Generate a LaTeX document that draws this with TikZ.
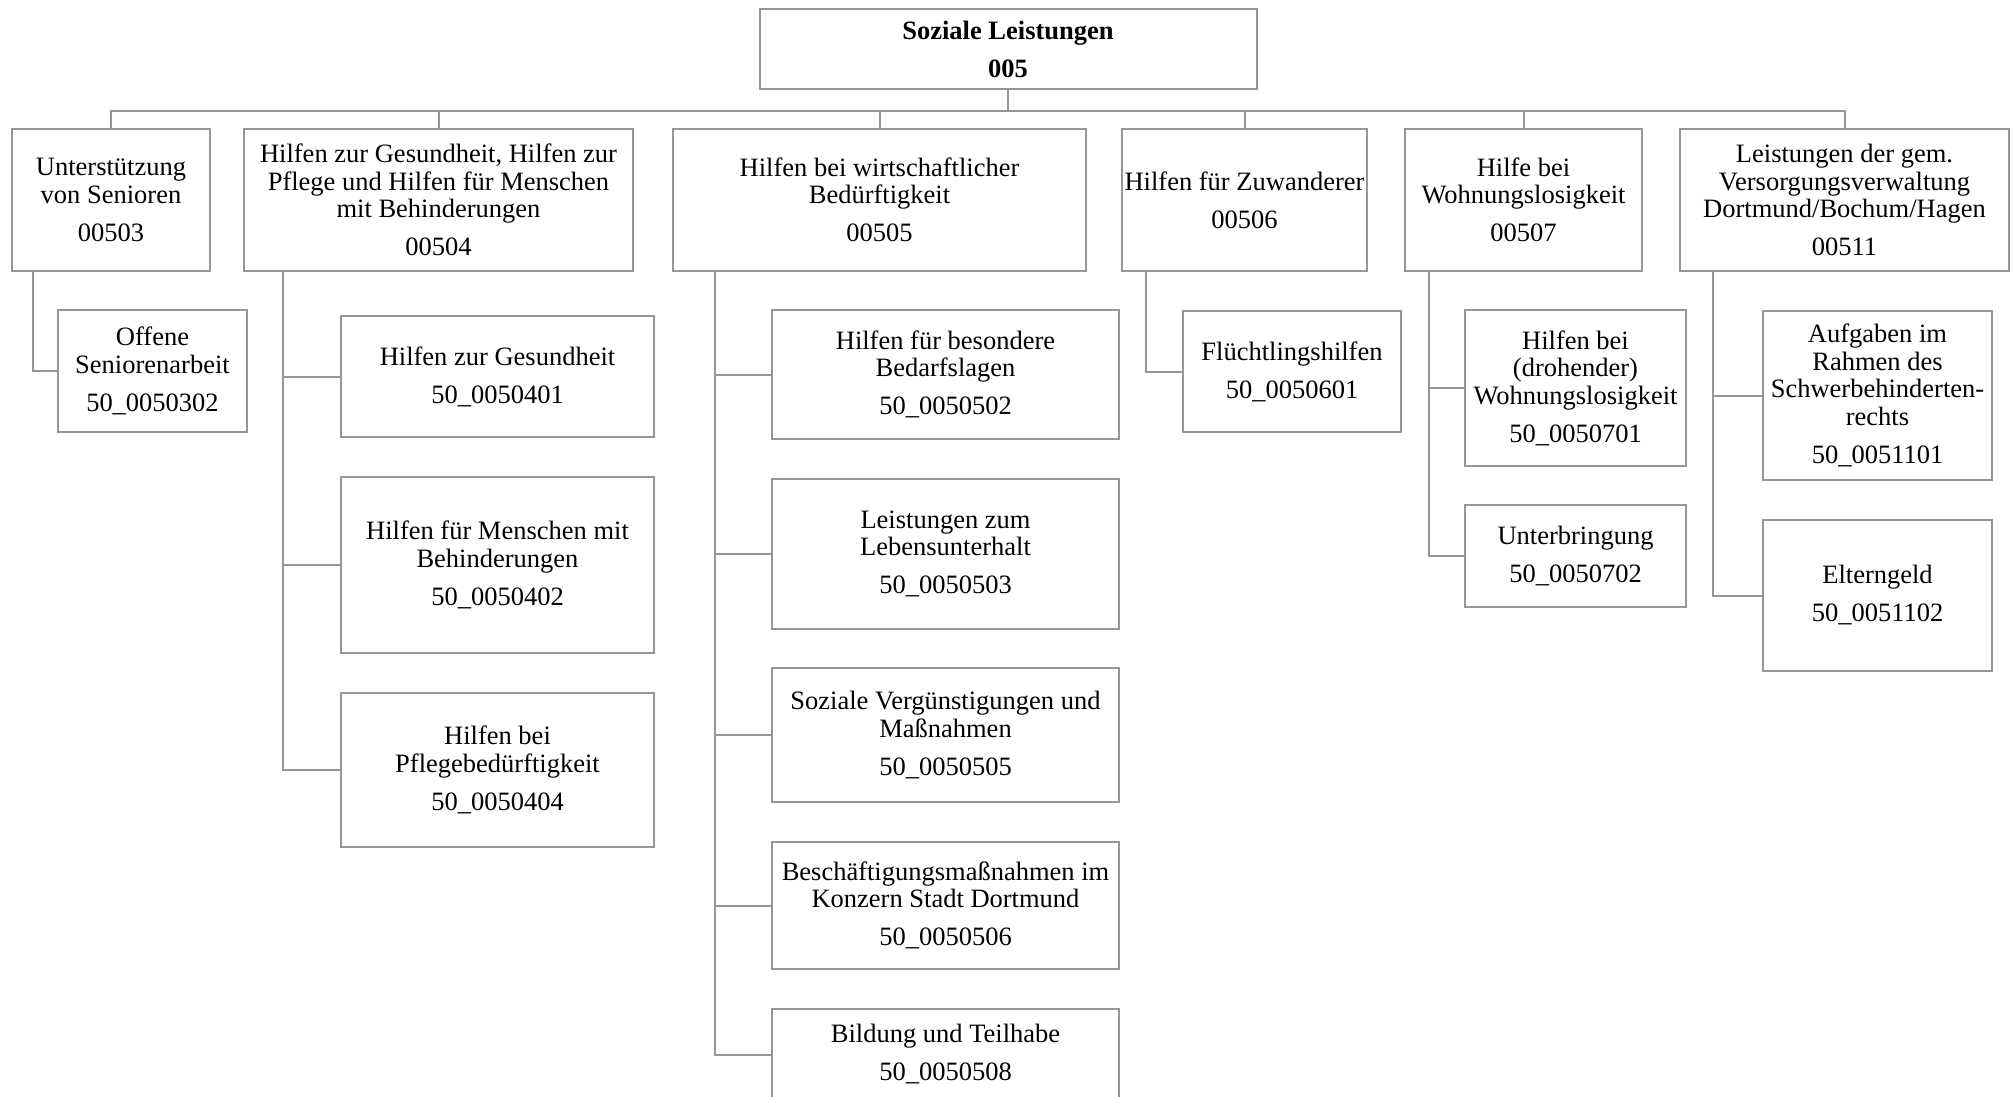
\documentclass[tikz,border=0pt]{standalone}
\usepackage{fontspec}
\setmainfont{Liberation Serif}
\usepackage{tikz}
\usetikzlibrary{positioning,calc}
\definecolor{rahmen}{RGB}{150,150,150}

\begin{document}
\begin{tikzpicture}[
    x=1pt, y=-1pt,
    every node/.style={font=\fontsize{26.5}{27.5}\selectfont, align=center},
    kasten/.style={rectangle, draw=rahmen, line width=2pt, inner sep=2pt, outer sep=0pt},
    bereich/.style={kasten, minimum width=497, minimum height=80, font=\fontsize{26.5}{27.5}\selectfont\bfseries},
    gruppe/.style={kasten, minimum height=142},
    produkt/.style={kasten},
    linie/.style={draw=rahmen, line width=2pt}
]
    \useasboundingbox (0,0) rectangle (2014,1097);

    % Produktbereich
    \node[bereich] (root) at (1008,49) {Soziale Leistungen\\[10.5pt]005};
    \coordinate (bus) at (0,111);

    % Produktgruppen
    \node[gruppe, minimum width=198] (g503) at (111,200) {Unterstützung\\von Senioren\\[10.5pt]00503};
    \node[gruppe, minimum width=389, right=34pt of g503] (g504) {Hilfen zur Gesundheit, Hilfen zur\\Pflege und Hilfen für Menschen\\mit Behinderungen\\[10.5pt]00504};
    \node[gruppe, minimum width=413, right=40pt of g504] (g505) {Hilfen bei wirtschaftlicher\\Bedürftigkeit\\[10.5pt]00505};
    \node[gruppe, minimum width=245, right=36pt of g505] (g506) {Hilfen für Zuwanderer\\[10.5pt]00506};
    \node[gruppe, minimum width=237, right=38pt of g506] (g507) {Hilfe bei\\Wohnungslosigkeit\\[10.5pt]00507};
    \node[gruppe, minimum width=329, right=38pt of g507] (g511) {Leistungen der gem.\\Versorgungsverwaltung\\Dortmund/Bochum/Hagen\\[10.5pt]00511};

    % Produkte
    \node[produkt, minimum width=189, minimum height=122, below right=39pt and 46pt of g503.south west] (p0302) {Offene\\Seniorenarbeit\\[10.5pt]50\_0050302};

    \node[produkt, minimum width=313, minimum height=121, below right=45pt and 97pt of g504.south west] (p0401) {Hilfen zur Gesundheit\\[10.5pt]50\_0050401};
    \node[produkt, minimum width=313, minimum height=176, below=40pt of p0401] (p0402) {Hilfen für Menschen mit\\Behinderungen\\[10.5pt]50\_0050402};
    \node[produkt, minimum width=313, minimum height=154, below=40pt of p0402] (p0404) {Hilfen bei\\Pflegebedürftigkeit\\[10.5pt]50\_0050404};

    \node[produkt, minimum width=347, minimum height=129, below right=39pt and 99pt of g505.south west] (p0502) {Hilfen für besondere\\Bedarfslagen\\[10.5pt]50\_0050502};
    \node[produkt, minimum width=347, minimum height=150, below=40pt of p0502] (p0503) {Leistungen zum\\Lebensunterhalt\\[10.5pt]50\_0050503};
    \node[produkt, minimum width=347, minimum height=134, below=39pt of p0503] (p0505) {Soziale Vergünstigungen und\\Maßnahmen\\[10.5pt]50\_0050505};
    \node[produkt, minimum width=347, minimum height=127, below=40pt of p0505] (p0506) {Beschäftigungsmaßnahmen im\\Konzern Stadt Dortmund\\[10.5pt]50\_0050506};
    \node[produkt, minimum width=347, minimum height=91, below=40pt of p0506] (p0508) {Bildung und Teilhabe\\[10.5pt]50\_0050508};

    \node[produkt, minimum width=218, minimum height=121, below right=40pt and 61pt of g506.south west] (p0601) {Flüchtlingshilfen\\[10.5pt]50\_0050601};

    \node[produkt, minimum width=221, minimum height=156, below right=39pt and 60pt of g507.south west] (p0701) {Hilfen bei\\(drohender)\\Wohnungslosigkeit\\[10.5pt]50\_0050701};
    \node[produkt, minimum width=221, minimum height=102, below=39pt of p0701] (p0702) {Unterbringung\\[10.5pt]50\_0050702};

    \node[produkt, minimum width=229, minimum height=169, below right=40pt and 83pt of g511.south west] (p1101) {Aufgaben im\\Rahmen des\\Schwerbehinderten-\\rechts\\[10.5pt]50\_0051101};
    \node[produkt, minimum width=229, minimum height=151, below=40pt of p1101] (p1102) {Elterngeld\\[10.5pt]50\_0051102};

    % Verbindungen
    \foreach \g in {g503,g504,g505,g506,g507,g511}
        \draw[linie] (root.south) |- (bus -| \g.north) -- (\g.north);

    \draw[linie] ([xshift=21pt]g503.south west) |- (p0302.west);
    \foreach \p in {p0401,p0402,p0404}
        \draw[linie] ([xshift=39pt]g504.south west) |- (\p.west);
    \foreach \p in {p0502,p0503,p0505,p0506,p0508}
        \draw[linie] ([xshift=42pt]g505.south west) |- (\p.west);
    \draw[linie] ([xshift=24pt]g506.south west) |- (p0601.west);
    \foreach \p in {p0701,p0702}
        \draw[linie] ([xshift=24pt]g507.south west) |- (\p.west);
    \foreach \p in {p1101,p1102}
        \draw[linie] ([xshift=33pt]g511.south west) |- (\p.west);
\end{tikzpicture}
\end{document}
